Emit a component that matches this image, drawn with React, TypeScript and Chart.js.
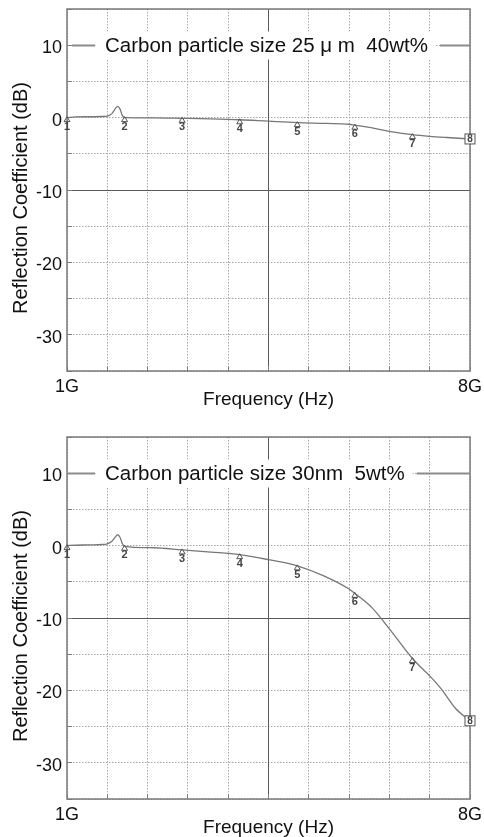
import React, { useEffect, useRef } from 'react';
import { Chart, registerables } from 'chart.js';

Chart.register(...registerables);

// ---------- data ----------
const xMin = 1;
const xMax = 8;
const xStep = 0.7;
const xTickLabels = ['1G', '8G'];
const xCenterLine = 4.5;

const yMin = -35;
const yMax = 15;
const yStep = 5;
const yTickLabels = [10, 0, -10, -20, -30];
const yCenterLine = -10;

const legendLevel = 10;

const markerFreqs = [1, 2, 3, 4, 5, 6, 7, 8];
const markerLabels = ['1', '2', '3', '4', '5', '6', '7', '8'];

const freqTop = [1.0, 1.15, 1.4, 1.6, 1.7, 1.78, 1.84, 1.88, 1.92, 1.96, 2.0, 2.5, 3.0, 3.5, 4.0, 4.5, 5.0, 5.5, 5.9, 6.0, 6.3, 6.6, 7.0, 7.3, 7.6, 8.0];
const valuesTop = [0.0, 0.1, 0.12, 0.15, 0.2, 0.55, 1.25, 1.55, 1.2, 0.3, 0.0, -0.03, -0.1, -0.18, -0.3, -0.5, -0.69, -0.8, -0.92, -1.05, -1.42, -1.9, -2.35, -2.58, -2.75, -2.95];

const freqBottom = [1.0, 1.15, 1.4, 1.6, 1.7, 1.78, 1.84, 1.88, 1.92, 1.96, 2.0, 2.5, 3.0, 3.5, 4.0, 4.5, 5.0, 5.45, 5.9, 6.0, 6.3, 6.6, 7.0, 7.3, 7.5, 7.75, 8.0];
const valuesBottom = [0.0, 0.05, 0.1, 0.15, 0.25, 0.6, 1.2, 1.5, 1.15, 0.3, -0.1, -0.3, -0.6, -0.9, -1.25, -1.95, -2.8, -4.15, -6.0, -6.6, -8.6, -11.5, -15.6, -18.0, -19.8, -22.5, -24.2];

const legendTop = 'Carbon particle size 25 μ m  40wt%';
const legendBottom = 'Carbon particle size 30nm  5wt%';
const yTitle = 'Reflection Coefficient (dB)';
const xTitle = 'Frequency (Hz)';

// ---------- styles ----------
const FONT = '"Liberation Sans", Arial, Helvetica, sans-serif';
const TEXT = '#111111';
const CANVAS_W = 484;
const CANVAS_H = 409;

type Props = { freqs: number[]; values: number[]; legend: string; legendLineStart: number; top: number };

function zeroPad(s: any) {
  s.paddingTop = 0;
  s.paddingBottom = 0;
  s.paddingLeft = 0;
  s.paddingRight = 0;
}

const align = (p: number) => Math.round(p - 0.5) + 0.5;

function ReflectionChart({ freqs, values, legend, legendLineStart, top }: Props) {
  const ref = useRef<HTMLCanvasElement | null>(null);

  useEffect(() => {
    const canvas = ref.current;
    if (!canvas) return;
    const points = freqs.map((f, i) => ({ x: f, y: values[i] }));
    const markerPoints = markerFreqs.map((f) => ({ x: f, y: values[freqs.indexOf(f)] }));

    const decor = {
      id: 'decor',
      beforeDatasetsDraw(chart: any) {
        const { ctx, chartArea: a, scales } = chart;
        const x = scales.x;
        const y = scales.y;
        ctx.save();
        // center lines
        ctx.setLineDash([]);
        ctx.strokeStyle = '#5a5a5a';
        ctx.lineWidth = 1;
        const cx = align(x.getPixelForValue(xCenterLine));
        const cy = align(y.getPixelForValue(yCenterLine));
        ctx.beginPath();
        ctx.moveTo(cx, a.top);
        ctx.lineTo(cx, a.bottom);
        ctx.moveTo(a.left, cy);
        ctx.lineTo(a.right, cy);
        ctx.stroke();
        // inner ticks
        ctx.strokeStyle = '#808080';
        ctx.lineWidth = 1;
        ctx.beginPath();
        x.ticks.forEach((t: any) => {
          const px = align(x.getPixelForValue(t.value));
          ctx.moveTo(px, a.bottom);
          ctx.lineTo(px, a.bottom - 5);
        });
        y.ticks.forEach((t: any) => {
          const py = align(y.getPixelForValue(t.value));
          ctx.moveTo(a.left, py);
          ctx.lineTo(a.left + 5, py);
        });
        ctx.stroke();
        // frame
        ctx.strokeStyle = '#7a7a7a';
        ctx.lineWidth = 1.5;
        ctx.strokeRect(a.left, a.top, a.right - a.left, a.bottom - a.top);
        // legend
        const yl = align(y.getPixelForValue(legendLevel));
        ctx.font = `20.5px ${FONT}`;
        const tw = ctx.measureText(legend).width;
        const tx = a.left + 38;
        ctx.fillStyle = '#ffffff';
        ctx.fillRect(tx - 8, yl - 14, tw + 16, 28);
        ctx.strokeStyle = '#8c8c8c';
        ctx.lineWidth = 2;
        ctx.beginPath();
        ctx.moveTo(a.left + legendLineStart, yl);
        ctx.lineTo(a.left + 28, yl);
        ctx.moveTo(tx + tw + 12, yl);
        ctx.lineTo(a.right, yl);
        ctx.stroke();
        ctx.fillStyle = TEXT;
        ctx.textAlign = 'left';
        ctx.textBaseline = 'middle';
        ctx.fillText(legend, tx, yl + 1);
        ctx.restore();
      },
      afterDatasetsDraw(chart: any) {
        const { ctx, scales } = chart;
        const x = scales.x;
        const y = scales.y;
        ctx.save();
        ctx.strokeStyle = '#555555';
        ctx.fillStyle = '#444444';
        ctx.lineWidth = 1;
        ctx.textAlign = 'center';
        ctx.textBaseline = 'middle';
        markerPoints.forEach((p, i) => {
          const px = x.getPixelForValue(p.x);
          const py = y.getPixelForValue(p.y);
          if (i < markerPoints.length - 1) {
            ctx.beginPath();
            ctx.moveTo(px, py - 1);
            ctx.lineTo(px - 3, py + 4);
            ctx.lineTo(px + 3, py + 4);
            ctx.closePath();
            ctx.stroke();
            ctx.font = `bold 11px ${FONT}`;
            ctx.fillText(markerLabels[i], px, py + 9);
          } else {
            ctx.fillStyle = '#ffffff';
            ctx.fillRect(px - 5, py - 5, 10, 10);
            ctx.strokeRect(px - 5, py - 5, 10, 10);
            ctx.fillStyle = '#444444';
            ctx.font = `bold 10px ${FONT}`;
            ctx.fillText(markerLabels[i], px, py + 0.5);
          }
        });
        ctx.restore();
      },
      afterDraw(chart: any) {
        const { ctx, chartArea: a } = chart;
        ctx.save();
        ctx.translate(21, (a.top + a.bottom) / 2 + 8);
        ctx.rotate(-Math.PI / 2);
        ctx.font = `20px ${FONT}`;
        ctx.fillStyle = TEXT;
        ctx.textAlign = 'center';
        ctx.textBaseline = 'middle';
        ctx.fillText(yTitle, 0, 0);
        ctx.restore();
      },
    };

    const chart = new Chart(canvas, {
      type: 'scatter',
      data: {
        datasets: [
          {
            label: legend,
            data: points,
            showLine: true,
            borderColor: '#777777',
            borderWidth: 1.3,
            pointRadius: 0,
            cubicInterpolationMode: 'monotone',
          },
          {
            label: 'markers',
            data: markerPoints,
            showLine: false,
            pointRadius: 0,
          },
        ],
      },
      options: {
        animation: false,
        responsive: false,
        devicePixelRatio: 1,
        layout: { padding: { top: 9, right: 14, left: 0, bottom: 0 } },
        plugins: { legend: { display: false }, tooltip: { enabled: false } },
        scales: {
          x: {
            type: 'linear',
            min: xMin,
            max: xMax,
            afterFit: (s: any) => {
              s.height = 38;
              zeroPad(s);
            },
            ticks: {
              stepSize: xStep,
              autoSkip: false,
              maxRotation: 0,
              padding: 5,
              color: TEXT,
              font: { family: FONT, size: 18 },
              callback: (_v: any, i: number, ticks: any[]) =>
                i === 0 ? xTickLabels[0] : i === ticks.length - 1 ? xTickLabels[1] : '',
            },
            grid: { color: '#a6a6a6', lineWidth: 1, drawTicks: false },
            border: { display: false, dash: [1.5, 1.5] },
            title: {
              display: true,
              text: xTitle,
              color: TEXT,
              font: { family: FONT, size: 19, lineHeight: 1 },
              padding: 0,
            },
          },
          y: {
            type: 'linear',
            min: yMin,
            max: yMax,
            afterFit: (s: any) => {
              s.width = 67;
              zeroPad(s);
            },
            ticks: {
              stepSize: yStep,
              padding: 5,
              labelOffset: 3,
              color: TEXT,
              font: { family: FONT, size: 18 },
              callback: (v: any) => (yTickLabels.includes(Number(v)) ? String(v) : ''),
            },
            grid: { color: '#a6a6a6', lineWidth: 1, drawTicks: false },
            border: { display: false, dash: [1.5, 1.5] },
          },
        },
      },
      plugins: [decor],
    } as any);
    return () => chart.destroy();
  }, [freqs, values, legend, legendLineStart]);

  return (
    <canvas
      ref={ref}
      width={CANVAS_W}
      height={CANVAS_H}
      style={{ position: 'absolute', left: 0, top, width: CANVAS_W, height: CANVAS_H }}
    />
  );
}

export default function App() {
  return (
    <div style={{ position: 'absolute', left: 0, top: 0, width: 484, height: 837, overflow: 'hidden', background: '#fff' }}>
      <ReflectionChart freqs={freqTop} values={valuesTop} legend={legendTop} legendLineStart={5} top={0} />
      <ReflectionChart freqs={freqBottom} values={valuesBottom} legend={legendBottom} legendLineStart={1} top={428} />
    </div>
  );
}
